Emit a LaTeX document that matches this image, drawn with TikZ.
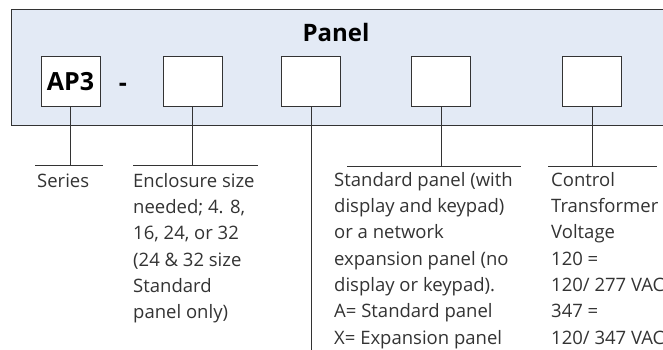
\documentclass[tikz,border=0pt]{standalone}
\usepackage{fontspec}
\setmainfont{Open Sans}
\usetikzlibrary{calc}
\definecolor{panelblue}{HTML}{E3EAF5}
\definecolor{inkgray}{HTML}{333333}
\tikzset{%
  selbox/.style={rectangle, draw=inkgray, fill=white, line width=1pt, minimum width=59pt, minimum height=50pt, inner sep=0pt, font=\bfseries\fontsize{25}{30}\selectfont, text=black},
  legline/.style={draw=inkgray, line width=1pt},
  legtext/.style={anchor=north west, align=left, inner sep=0pt, font=\fontsize{18.5}{26.3}\selectfont, text=inkgray}
}

\begin{document}
\begin{tikzpicture}[x=1pt,y=-1pt]
  \useasboundingbox (0,0) rectangle (663,350);

% panel strip
\draw [legline, fill=panelblue] (11,10) rectangle (680,125);
\node [anchor=base, inner sep=0pt, font=\bfseries\fontsize{24}{28}\selectfont] (title) at (336,42) {Panel};

% selection boxes
\node [selbox] (ser) at (70.5,82) {AP3};
\node [anchor=base, inner sep=0pt, font=\bfseries\fontsize{25}{30}\selectfont] (dash) at (123,92) {-};
\foreach \nm / \xc in {size/192.5, opt/311, kind/441, volt/592}{
  \node [selbox] (\nm) at (\xc,82) {};
}

% legend bars
\foreach \nm / \xl / \xr / \yb in {ser/35/103/165, size/133/258/165, kind/347/521/166, volt/548/657/166}{
  \coordinate (\nm L) at (\xl,\yb);
  \coordinate (\nm R) at (\xr,\yb);
  \draw [legline] (\nm L) -- (\nm R);
  \draw [legline] (\nm.south) -- (\nm.south |- \nm L);
}
\coordinate (optend) at (311,355);
\draw [legline] (opt.south) -- (optend);

% legend texts
\node [legtext] (sertext) at (37,174) {Series};
\node [legtext] (sizetext) at (133,173) {Enclosure size\\needed; 4. 8,\\16, 24, or 32\\(24 \& 32 size\\Standard\\panel only)};
\node [legtext] (kindtext) at (334,172) {Standard panel (with\\display and keypad)\\or a network\\expansion panel (no\\display or keypad).\\A= Standard panel\\X= Expansion panel};
\node [legtext] (volttext) at (551,172) {Control\\Transformer\\Voltage\\120 =\\120/ 277 VAC\\347 =\\120/ 347 VAC};

\end{tikzpicture}
\end{document}
